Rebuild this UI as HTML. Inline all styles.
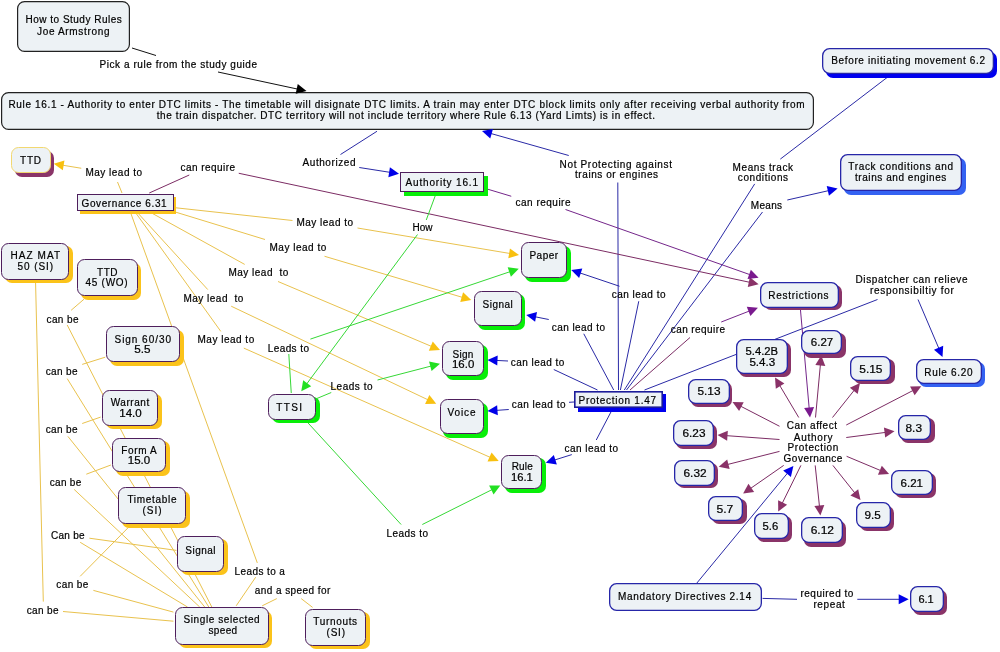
<!DOCTYPE html>
<html><head><meta charset="utf-8"><title>Concept map</title>
<style>html,body{margin:0;padding:0;background:#fff;width:1000px;height:652px;overflow:hidden}
svg{display:block;will-change:transform}
text{font-family:"Liberation Sans",sans-serif}</style></head>
<body>
<svg width="1000" height="652" viewBox="0 0 1000 652">
<rect width="1000" height="652" fill="#ffffff"/>
<g fill="none">
<polyline points="132.00,48.00 156.00,55.50" stroke="#111111" stroke-width="1.0"/>
<polyline points="218.00,72.00 298.68,89.32" stroke="#111111" stroke-width="1.0"/>
<polyline points="377.00,131.25 340.50,154.50" stroke="#2a2aa6" stroke-width="1.0"/>
<polyline points="359.25,167.50 391.10,172.51" stroke="#2a2aa6" stroke-width="1.0"/>
<polyline points="568.75,155.50 489.70,133.17" stroke="#2a2aa6" stroke-width="1.0"/>
<polyline points="617.80,182.50 618.50,390.00" stroke="#2a2aa6" stroke-width="1.0"/>
<polyline points="780.30,159.10 891.00,74.50" stroke="#2a2aa6" stroke-width="1.0"/>
<polyline points="624.30,390.00 754.70,183.90" stroke="#2a2aa6" stroke-width="1.0"/>
<polyline points="626.50,390.00 762.50,212.00" stroke="#2a2aa6" stroke-width="1.0"/>
<polyline points="787.30,200.00 829.80,190.37" stroke="#2a2aa6" stroke-width="1.0"/>
<polyline points="620.40,390.00 638.75,301.25" stroke="#2a2aa6" stroke-width="1.0"/>
<polyline points="619.50,286.25 578.83,272.55" stroke="#2a2aa6" stroke-width="1.0"/>
<polyline points="613.70,390.00 583.75,333.75" stroke="#2a2aa6" stroke-width="1.0"/>
<polyline points="548.75,319.50 534.09,316.57" stroke="#2a2aa6" stroke-width="1.0"/>
<polyline points="597.50,390.00 553.75,369.50" stroke="#2a2aa6" stroke-width="1.0"/>
<polyline points="508.00,361.00 495.49,360.39" stroke="#2a2aa6" stroke-width="1.0"/>
<polyline points="574.00,402.00 569.00,402.30" stroke="#2a2aa6" stroke-width="1.0"/>
<polyline points="508.75,409.50 495.48,410.44" stroke="#2a2aa6" stroke-width="1.0"/>
<polyline points="612.50,409.00 596.25,440.00" stroke="#2a2aa6" stroke-width="1.0"/>
<polyline points="571.80,454.60 553.43,460.39" stroke="#2a2aa6" stroke-width="1.0"/>
<polyline points="644.50,390.00 877.50,299.50" stroke="#2a2aa6" stroke-width="1.0"/>
<polyline points="918.00,299.50 939.36,349.64" stroke="#2a2aa6" stroke-width="1.0"/>
<polyline points="696.90,583.00 788.31,472.17" stroke="#2a2aa6" stroke-width="1.0"/>
<polyline points="762.60,598.40 797.00,599.30" stroke="#2a2aa6" stroke-width="1.0"/>
<polyline points="857.30,599.30 900.70,599.30" stroke="#2a2aa6" stroke-width="1.0"/>
<polyline points="149.25,193.00 189.25,175.00" stroke="#7c2c64" stroke-width="1.0"/>
<polyline points="238.75,173.25 750.78,282.53" stroke="#7c2c64" stroke-width="1.0"/>
<polyline points="483.75,188.00 511.25,196.25" stroke="#74268a" stroke-width="1.0"/>
<polyline points="565.50,209.50 751.06,275.04" stroke="#74268a" stroke-width="1.0"/>
<polyline points="630.00,390.00 690.00,337.50" stroke="#7c2c64" stroke-width="1.0"/>
<polyline points="721.25,322.00 750.45,310.61" stroke="#74268a" stroke-width="1.0"/>
<polyline points="800.30,308.00 809.29,409.53" stroke="#74268a" stroke-width="1.0"/>
<polyline points="815.50,417.50 820.51,363.47" stroke="#7c2c64" stroke-width="1.0"/>
<polyline points="798.75,417.50 779.08,384.38" stroke="#7c2c64" stroke-width="1.0"/>
<polyline points="832.50,417.50 855.01,389.26" stroke="#7c2c64" stroke-width="1.0"/>
<polyline points="846.25,425.00 914.14,389.92" stroke="#7c2c64" stroke-width="1.0"/>
<polyline points="846.25,437.50 886.57,432.28" stroke="#7c2c64" stroke-width="1.0"/>
<polyline points="779.50,426.25 739.61,405.67" stroke="#7c2c64" stroke-width="1.0"/>
<polyline points="779.50,439.50 725.48,435.58" stroke="#7c2c64" stroke-width="1.0"/>
<polyline points="779.50,451.40 726.46,464.75" stroke="#7c2c64" stroke-width="1.0"/>
<polyline points="783.70,465.40 749.67,489.04" stroke="#7c2c64" stroke-width="1.0"/>
<polyline points="800.90,465.40 781.73,504.32" stroke="#7c2c64" stroke-width="1.0"/>
<polyline points="815.20,465.40 819.57,507.44" stroke="#7c2c64" stroke-width="1.0"/>
<polyline points="832.90,465.40 855.52,493.84" stroke="#7c2c64" stroke-width="1.0"/>
<polyline points="846.60,456.30 881.72,471.01" stroke="#7c2c64" stroke-width="1.0"/>
<polyline points="122.00,193.00 117.50,182.00" stroke="#e9c24e" stroke-width="1.0"/>
<polyline points="81.25,168.25 61.64,165.04" stroke="#e9c24e" stroke-width="1.0"/>
<polyline points="174.00,207.60 292.50,220.50" stroke="#e9c24e" stroke-width="1.0"/>
<polyline points="357.50,228.00 511.11,253.68" stroke="#e9c24e" stroke-width="1.0"/>
<polyline points="172.00,211.00 265.00,239.50" stroke="#e9c24e" stroke-width="1.0"/>
<polyline points="324.50,256.25 463.58,297.71" stroke="#e9c24e" stroke-width="1.0"/>
<polyline points="148.00,211.00 244.70,264.40" stroke="#e9c24e" stroke-width="1.0"/>
<polyline points="278.00,281.50 432.63,346.88" stroke="#e9c24e" stroke-width="1.0"/>
<polyline points="136.00,211.00 207.80,289.60" stroke="#e9c24e" stroke-width="1.0"/>
<polyline points="231.20,306.20 429.03,400.31" stroke="#e9c24e" stroke-width="1.0"/>
<polyline points="134.40,211.00 220.80,331.40" stroke="#e9c24e" stroke-width="1.0"/>
<polyline points="243.80,348.10 491.39,457.86" stroke="#e9c24e" stroke-width="1.0"/>
<polyline points="130.00,211.00 257.30,562.90" stroke="#e9c24e" stroke-width="1.0"/>
<polyline points="255.70,577.20 236.20,605.80" stroke="#e9c24e" stroke-width="1.0"/>
<polyline points="276.80,598.60 262.20,605.80" stroke="#e9c24e" stroke-width="1.0"/>
<polyline points="301.20,598.60 312.60,607.40" stroke="#e9c24e" stroke-width="1.0"/>
<polyline points="84.00,299.20 71.10,310.30" stroke="#e9c24e" stroke-width="1.0"/>
<polyline points="67.20,325.00 211.80,607.00" stroke="#e9c24e" stroke-width="1.0"/>
<polyline points="105.20,357.20 82.20,364.40" stroke="#e9c24e" stroke-width="1.0"/>
<polyline points="67.20,378.60 208.80,607.00" stroke="#e9c24e" stroke-width="1.0"/>
<polyline points="100.60,417.10 82.20,423.50" stroke="#e9c24e" stroke-width="1.0"/>
<polyline points="67.90,436.40 204.70,607.00" stroke="#e9c24e" stroke-width="1.0"/>
<polyline points="110.90,465.00 86.30,474.20" stroke="#e9c24e" stroke-width="1.0"/>
<polyline points="74.10,489.40 199.70,607.00" stroke="#e9c24e" stroke-width="1.0"/>
<polyline points="89.40,538.20 176.40,550.40" stroke="#e9c24e" stroke-width="1.0"/>
<polyline points="80.20,542.30 187.50,607.00" stroke="#e9c24e" stroke-width="1.0"/>
<polyline points="80.20,576.30 129.80,526.00" stroke="#e9c24e" stroke-width="1.0"/>
<polyline points="93.40,590.40 173.40,612.10" stroke="#e9c24e" stroke-width="1.0"/>
<polyline points="35.50,280.00 43.30,601.60" stroke="#e9c24e" stroke-width="1.0"/>
<polyline points="63.00,611.50 173.40,621.20" stroke="#e9c24e" stroke-width="1.0"/>
<polyline points="436.25,193.00 426.25,220.00" stroke="#36d836" stroke-width="1.0"/>
<polyline points="417.50,234.50 306.02,384.82" stroke="#36d836" stroke-width="1.0"/>
<polyline points="310.40,339.10 511.17,271.31" stroke="#36d836" stroke-width="1.0"/>
<polyline points="288.80,354.00 291.25,393.00" stroke="#36d836" stroke-width="1.0"/>
<polyline points="316.25,398.75 331.25,392.50" stroke="#36d836" stroke-width="1.0"/>
<polyline points="377.50,380.00 432.26,365.76" stroke="#36d836" stroke-width="1.0"/>
<polyline points="306.25,421.00 401.10,524.50" stroke="#36d836" stroke-width="1.0"/>
<polyline points="422.30,524.50 493.14,489.08" stroke="#36d836" stroke-width="1.0"/>
</g>
<rect x="17.60" y="1.60" width="111.80" height="49.80" rx="7" fill="#edf2f5" stroke="#222" stroke-width="1.2"/>
<rect x="1.60" y="92.60" width="811.80" height="36.80" rx="7" fill="#edf2f5" stroke="#222" stroke-width="1.2"/>
<rect x="826" y="52" width="171" height="26" rx="7" fill="#0000ee"/>
<rect x="822.65" y="48.65" width="170.70" height="24.70" rx="7" fill="#edf2f5" stroke="#2626a8" stroke-width="1.3"/>
<rect x="844" y="158" width="122" height="37" rx="7" fill="#3462f2"/>
<rect x="840.65" y="154.65" width="120.70" height="35.70" rx="7" fill="#edf2f5" stroke="#2626a8" stroke-width="1.3"/>
<rect x="15" y="151" width="39" height="26" rx="7" fill="#8a3468"/>
<rect x="11.50" y="147.50" width="39.00" height="25.00" rx="7" fill="#edf2f5" stroke="#f2d870" stroke-width="1.0"/>
<rect x="80" y="197" width="96" height="17" rx="0" fill="#fbc31a"/>
<rect x="77.50" y="194.50" width="96.00" height="16.00" rx="0" fill="#edf2f5" stroke="#4e1e5c" stroke-width="1.0"/>
<rect x="404" y="176" width="84" height="20" rx="0" fill="#08ee08"/>
<rect x="400.50" y="172.50" width="83.00" height="19.00" rx="0" fill="#edf2f5" stroke="#4e1e5c" stroke-width="1.0"/>
<rect x="5" y="246" width="68" height="37" rx="7" fill="#fbc31a"/>
<rect x="1.50" y="243.50" width="67.00" height="36.00" rx="7" fill="#edf2f5" stroke="#4e1e5c" stroke-width="1.0"/>
<rect x="81" y="263" width="60" height="37" rx="7" fill="#fbc31a"/>
<rect x="77.50" y="259.50" width="60.00" height="36.00" rx="7" fill="#edf2f5" stroke="#4e1e5c" stroke-width="1.0"/>
<rect x="525" y="246" width="46" height="36" rx="7" fill="#08ee08"/>
<rect x="521.50" y="242.50" width="45.00" height="35.00" rx="7" fill="#edf2f5" stroke="#4e1e5c" stroke-width="1.0"/>
<rect x="478" y="294" width="47" height="36" rx="7" fill="#08ee08"/>
<rect x="474.50" y="291.50" width="47.00" height="34.00" rx="7" fill="#edf2f5" stroke="#4e1e5c" stroke-width="1.0"/>
<rect x="764" y="285" width="78" height="25" rx="7" fill="#8a3468"/>
<rect x="760.65" y="282.65" width="77.70" height="24.70" rx="7" fill="#edf2f5" stroke="#2626a8" stroke-width="1.3"/>
<rect x="110" y="330" width="74" height="36" rx="7" fill="#fbc31a"/>
<rect x="106.50" y="326.50" width="73.00" height="35.00" rx="7" fill="#edf2f5" stroke="#4e1e5c" stroke-width="1.0"/>
<rect x="446" y="345" width="42" height="35" rx="7" fill="#08ee08"/>
<rect x="442.50" y="341.50" width="41.00" height="34.00" rx="7" fill="#edf2f5" stroke="#4e1e5c" stroke-width="1.0"/>
<rect x="272" y="397" width="48" height="26" rx="7" fill="#08ee08"/>
<rect x="268.50" y="394.50" width="47.00" height="25.00" rx="7" fill="#edf2f5" stroke="#4e1e5c" stroke-width="1.0"/>
<rect x="443" y="403" width="45" height="35" rx="7" fill="#08ee08"/>
<rect x="440.50" y="399.50" width="43.00" height="34.00" rx="7" fill="#edf2f5" stroke="#4e1e5c" stroke-width="1.0"/>
<rect x="578" y="394" width="88" height="18" rx="0" fill="#0000ee"/>
<rect x="574.80" y="391.80" width="87.40" height="15.40" rx="0" fill="#edf2f5" stroke="#1c1c9a" stroke-width="1.6"/>
<rect x="106" y="394" width="56" height="35" rx="7" fill="#fbc31a"/>
<rect x="102.50" y="390.50" width="55.00" height="35.00" rx="7" fill="#edf2f5" stroke="#4e1e5c" stroke-width="1.0"/>
<rect x="116" y="441" width="54" height="35" rx="7" fill="#fbc31a"/>
<rect x="112.50" y="438.50" width="53.00" height="33.00" rx="7" fill="#edf2f5" stroke="#4e1e5c" stroke-width="1.0"/>
<rect x="122" y="491" width="68" height="37" rx="7" fill="#fbc31a"/>
<rect x="118.50" y="487.50" width="67.00" height="36.00" rx="7" fill="#edf2f5" stroke="#4e1e5c" stroke-width="1.0"/>
<rect x="181" y="539" width="47" height="36" rx="7" fill="#fbc31a"/>
<rect x="177.50" y="536.50" width="46.00" height="35.00" rx="7" fill="#edf2f5" stroke="#4e1e5c" stroke-width="1.0"/>
<rect x="179" y="611" width="93" height="37" rx="7" fill="#fbc31a"/>
<rect x="175.50" y="607.50" width="93.00" height="37.00" rx="7" fill="#edf2f5" stroke="#4e1e5c" stroke-width="1.0"/>
<rect x="309" y="612" width="61" height="37" rx="7" fill="#fbc31a"/>
<rect x="305.50" y="609.50" width="60.00" height="36.00" rx="7" fill="#edf2f5" stroke="#4e1e5c" stroke-width="1.0"/>
<rect x="505" y="458" width="41" height="35" rx="7" fill="#08ee08"/>
<rect x="501.50" y="455.50" width="40.00" height="33.00" rx="7" fill="#edf2f5" stroke="#4e1e5c" stroke-width="1.0"/>
<rect x="739" y="342" width="52" height="35" rx="7" fill="#8a3468"/>
<rect x="736.65" y="339.65" width="50.70" height="33.70" rx="7" fill="#edf2f5" stroke="#2626a8" stroke-width="1.3"/>
<rect x="804" y="333" width="42" height="25" rx="7" fill="#8a3468"/>
<rect x="801.65" y="330.65" width="39.70" height="22.70" rx="7" fill="#edf2f5" stroke="#2626a8" stroke-width="1.3"/>
<rect x="854" y="359" width="41" height="25" rx="7" fill="#8a3468"/>
<rect x="850.65" y="356.65" width="39.70" height="23.70" rx="7" fill="#edf2f5" stroke="#2626a8" stroke-width="1.3"/>
<rect x="919" y="362" width="66" height="25" rx="7" fill="#3462f2"/>
<rect x="916.65" y="359.65" width="64.70" height="23.70" rx="7" fill="#edf2f5" stroke="#2626a8" stroke-width="1.3"/>
<rect x="691" y="382" width="41" height="25" rx="7" fill="#8a3468"/>
<rect x="688.65" y="379.65" width="40.70" height="23.70" rx="7" fill="#edf2f5" stroke="#2626a8" stroke-width="1.3"/>
<rect x="901" y="418" width="34" height="25" rx="7" fill="#8a3468"/>
<rect x="898.65" y="415.65" width="31.70" height="23.70" rx="7" fill="#edf2f5" stroke="#2626a8" stroke-width="1.3"/>
<rect x="676" y="424" width="41" height="25" rx="7" fill="#8a3468"/>
<rect x="673.65" y="420.65" width="39.70" height="24.70" rx="7" fill="#edf2f5" stroke="#2626a8" stroke-width="1.3"/>
<rect x="677" y="463" width="41" height="25" rx="7" fill="#8a3468"/>
<rect x="674.65" y="460.65" width="39.70" height="24.70" rx="7" fill="#edf2f5" stroke="#2626a8" stroke-width="1.3"/>
<rect x="895" y="473" width="41" height="25" rx="7" fill="#8a3468"/>
<rect x="891.65" y="470.65" width="40.70" height="23.70" rx="7" fill="#edf2f5" stroke="#2626a8" stroke-width="1.3"/>
<rect x="712" y="499" width="35" height="25" rx="7" fill="#8a3468"/>
<rect x="708.65" y="496.65" width="33.70" height="23.70" rx="7" fill="#edf2f5" stroke="#2626a8" stroke-width="1.3"/>
<rect x="860" y="506" width="34" height="25" rx="7" fill="#8a3468"/>
<rect x="856.65" y="502.65" width="33.70" height="24.70" rx="7" fill="#edf2f5" stroke="#2626a8" stroke-width="1.3"/>
<rect x="757" y="516" width="35" height="26" rx="7" fill="#8a3468"/>
<rect x="754.65" y="513.65" width="33.70" height="24.70" rx="7" fill="#edf2f5" stroke="#2626a8" stroke-width="1.3"/>
<rect x="804" y="521" width="42" height="26" rx="7" fill="#8a3468"/>
<rect x="801.65" y="517.65" width="40.70" height="24.70" rx="7" fill="#edf2f5" stroke="#2626a8" stroke-width="1.3"/>
<rect x="609.65" y="583.65" width="151.70" height="26.70" rx="7" fill="#edf2f5" stroke="#2626a8" stroke-width="1.3"/>
<rect x="913" y="590" width="34" height="25" rx="7" fill="#8a3468"/>
<rect x="910.65" y="586.65" width="32.70" height="24.70" rx="7" fill="#edf2f5" stroke="#2626a8" stroke-width="1.3"/>
<polygon points="306.50,91.00 295.67,93.79 297.77,84.01" fill="#000000"/>
<polygon points="399.00,173.75 388.34,177.14 389.90,167.26" fill="#0000e8"/>
<polygon points="482.00,131.00 492.98,128.91 490.26,138.53" fill="#0000e8"/>
<polygon points="837.60,188.60 828.95,195.69 826.74,185.93" fill="#0000e8"/>
<polygon points="571.25,270.00 582.32,268.45 579.13,277.93" fill="#0000e8"/>
<polygon points="526.25,315.00 537.04,312.06 535.08,321.86" fill="#0000e8"/>
<polygon points="487.50,360.00 497.73,355.49 497.24,365.48" fill="#0000e8"/>
<polygon points="487.50,411.00 497.12,405.31 497.83,415.28" fill="#0000e8"/>
<polygon points="545.80,462.80 553.83,455.02 556.84,464.56" fill="#0000e8"/>
<polygon points="942.50,357.00 933.98,349.76 943.18,345.84" fill="#0000e8"/>
<polygon points="793.40,466.00 790.89,476.90 783.18,470.53" fill="#0000e8"/>
<polygon points="908.70,599.30 898.70,604.30 898.70,594.30" fill="#0000e8"/>
<polygon points="758.60,284.20 747.78,287.00 749.86,277.22" fill="#8a3268"/>
<polygon points="758.60,277.70 747.51,279.08 750.84,269.66" fill="#7a1a8e"/>
<polygon points="757.90,307.70 750.40,315.99 746.77,306.68" fill="#7a1a8e"/>
<polygon points="810.00,417.50 804.14,407.98 814.10,407.10" fill="#7a1a8e"/>
<polygon points="821.25,355.50 825.31,365.92 815.35,365.00" fill="#8a3268"/>
<polygon points="775.00,377.50 784.40,383.55 775.81,388.65" fill="#8a3268"/>
<polygon points="860.00,383.00 857.68,393.94 849.86,387.70" fill="#8a3268"/>
<polygon points="921.25,386.25 914.66,395.28 910.07,386.40" fill="#8a3268"/>
<polygon points="894.50,431.25 885.23,437.49 883.94,427.58" fill="#8a3268"/>
<polygon points="732.50,402.00 743.68,402.14 739.09,411.03" fill="#8a3268"/>
<polygon points="717.50,435.00 727.84,430.74 727.11,440.71" fill="#8a3268"/>
<polygon points="718.70,466.70 727.18,459.41 729.62,469.11" fill="#8a3268"/>
<polygon points="743.10,493.60 748.46,483.79 754.17,492.00" fill="#8a3268"/>
<polygon points="778.20,511.50 778.13,500.32 787.10,504.74" fill="#8a3268"/>
<polygon points="820.40,515.40 814.39,505.97 824.34,504.94" fill="#8a3268"/>
<polygon points="860.50,500.10 850.36,495.39 858.19,489.16" fill="#8a3268"/>
<polygon points="889.10,474.10 877.94,474.85 881.81,465.63" fill="#8a3268"/>
<polygon points="53.75,163.75 64.43,160.43 62.81,170.30" fill="#f8c010"/>
<polygon points="519.00,255.00 508.31,258.28 509.96,248.42" fill="#f8c010"/>
<polygon points="471.25,300.00 460.24,301.93 463.10,292.35" fill="#f8c010"/>
<polygon points="440.00,350.00 428.84,350.71 432.74,341.50" fill="#f8c010"/>
<polygon points="436.25,403.75 425.07,403.97 429.37,394.94" fill="#f8c010"/>
<polygon points="498.70,461.10 487.53,461.62 491.58,452.48" fill="#f8c010"/>
<polygon points="301.25,391.25 303.19,380.24 311.22,386.20" fill="#22e022"/>
<polygon points="518.75,268.75 510.88,276.69 507.68,267.21" fill="#22e022"/>
<polygon points="440.00,363.75 431.58,371.11 429.06,361.43" fill="#22e022"/>
<polygon points="500.30,485.50 493.59,494.44 489.12,485.50" fill="#22e022"/>
<g font-family="Liberation Sans, sans-serif" fill="#000" stroke="#000" stroke-width="0.2">
<text x="25.50" y="23.40" textLength="96.25" lengthAdjust="spacing" font-size="10.0">How to Study Rules</text>
<text x="37.00" y="34.90" textLength="72.50" lengthAdjust="spacing" font-size="10.0">Joe Armstrong</text>
<text x="8.40" y="108.40" textLength="796.10" lengthAdjust="spacing" font-size="10.0">Rule 16.1 - Authority to enter DTC limits - The timetable will disignate DTC limits. A train may enter DTC block limits only after receiving verbal authority from</text>
<text x="156.70" y="119.20" textLength="498.30" lengthAdjust="spacing" font-size="10.0">the train dispatcher. DTC territory will not include territory where Rule 6.13 (Yard Limts) is in effect.</text>
<text x="831.25" y="64.40" textLength="153.75" lengthAdjust="spacing" font-size="10.0">Before initiating movement 6.2</text>
<text x="848.25" y="170.15" textLength="104.75" lengthAdjust="spacing" font-size="10.0">Track conditions and</text>
<text x="855.00" y="181.10" textLength="91.25" lengthAdjust="spacing" font-size="10.0">trains and engines</text>
<text x="20.00" y="164.40" textLength="21.00" lengthAdjust="spacing" font-size="10.0">TTD</text>
<text x="81.60" y="206.50" textLength="85.00" lengthAdjust="spacing" font-size="10.0">Governance 6.31</text>
<text x="405.50" y="185.65" textLength="72.50" lengthAdjust="spacing" font-size="10.0">Authority 16.1</text>
<text x="10.50" y="259.40" textLength="49.50" lengthAdjust="spacing" font-size="10.0">HAZ MAT</text>
<text x="17.50" y="270.15" textLength="35.50" lengthAdjust="spacing" font-size="10.0">50 (SI)</text>
<text x="97.00" y="275.50" textLength="20.60" lengthAdjust="spacing" font-size="10.0">TTD</text>
<text x="85.60" y="286.30" textLength="42.00" lengthAdjust="spacing" font-size="10.0">45 (WO)</text>
<text x="529.50" y="259.40" textLength="28.50" lengthAdjust="spacing" font-size="10.0">Paper</text>
<text x="482.50" y="308.10" textLength="30.30" lengthAdjust="spacing" font-size="10.0">Signal</text>
<text x="768.30" y="299.30" textLength="60.20" lengthAdjust="spacing" font-size="10.0">Restrictions</text>
<text x="114.50" y="342.65" textLength="56.50" lengthAdjust="spacing" font-size="10.0">Sign 60/30</text>
<text x="134.25" y="353.40" textLength="16.25" lengthAdjust="spacingAndGlyphs" font-size="10.0">5.5</text>
<text x="452.50" y="357.65" textLength="20.75" lengthAdjust="spacing" font-size="10.0">Sign</text>
<text x="452.00" y="368.15" textLength="22.25" lengthAdjust="spacingAndGlyphs" font-size="10.0">16.0</text>
<text x="276.25" y="411.40" textLength="25.75" lengthAdjust="spacing" font-size="10.0">TTSI</text>
<text x="447.50" y="416.40" textLength="28.00" lengthAdjust="spacing" font-size="10.0">Voice</text>
<text x="578.60" y="404.40" textLength="77.40" lengthAdjust="spacing" font-size="10.0">Protection 1.47</text>
<text x="110.75" y="406.40" textLength="38.50" lengthAdjust="spacing" font-size="10.0">Warrant</text>
<text x="119.25" y="417.15" textLength="22.50" lengthAdjust="spacingAndGlyphs" font-size="10.0">14.0</text>
<text x="121.30" y="453.65" textLength="35.40" lengthAdjust="spacing" font-size="10.0">Form A</text>
<text x="127.80" y="464.40" textLength="22.40" lengthAdjust="spacingAndGlyphs" font-size="10.0">15.0</text>
<text x="127.40" y="503.40" textLength="49.10" lengthAdjust="spacing" font-size="10.0">Timetable</text>
<text x="142.40" y="514.40" textLength="19.20" lengthAdjust="spacing" font-size="10.0">(SI)</text>
<text x="185.30" y="553.50" textLength="30.20" lengthAdjust="spacing" font-size="10.0">Signal</text>
<text x="183.50" y="623.40" textLength="76.10" lengthAdjust="spacing" font-size="10.0">Single selected</text>
<text x="208.50" y="634.10" textLength="28.60" lengthAdjust="spacing" font-size="10.0">speed</text>
<text x="313.20" y="625.30" textLength="43.90" lengthAdjust="spacing" font-size="10.0">Turnouts</text>
<text x="326.50" y="636.40" textLength="18.50" lengthAdjust="spacing" font-size="10.0">(SI)</text>
<text x="511.70" y="469.90" textLength="21.10" lengthAdjust="spacing" font-size="10.0">Rule</text>
<text x="511.00" y="481.30" textLength="21.80" lengthAdjust="spacingAndGlyphs" font-size="10.0">16.1</text>
<text x="745.50" y="355.20" textLength="32.60" lengthAdjust="spacingAndGlyphs" font-size="10.0">5.4.2B</text>
<text x="749.40" y="365.90" textLength="25.90" lengthAdjust="spacingAndGlyphs" font-size="10.0">5.4.3</text>
<text x="810.80" y="346.30" textLength="22.40" lengthAdjust="spacingAndGlyphs" font-size="10.0">6.27</text>
<text x="859.25" y="373.40" textLength="23.25" lengthAdjust="spacingAndGlyphs" font-size="10.0">5.15</text>
<text x="924.25" y="376.40" textLength="48.25" lengthAdjust="spacing" font-size="10.0">Rule 6.20</text>
<text x="697.50" y="395.15" textLength="23.00" lengthAdjust="spacingAndGlyphs" font-size="10.0">5.13</text>
<text x="905.50" y="431.90" textLength="16.50" lengthAdjust="spacingAndGlyphs" font-size="10.0">8.3</text>
<text x="682.50" y="436.90" textLength="23.00" lengthAdjust="spacingAndGlyphs" font-size="10.0">6.23</text>
<text x="683.50" y="477.10" textLength="23.10" lengthAdjust="spacingAndGlyphs" font-size="10.0">6.32</text>
<text x="900.50" y="487.10" textLength="22.50" lengthAdjust="spacingAndGlyphs" font-size="10.0">6.21</text>
<text x="716.40" y="513.10" textLength="16.90" lengthAdjust="spacingAndGlyphs" font-size="10.0">5.7</text>
<text x="864.40" y="519.30" textLength="16.30" lengthAdjust="spacingAndGlyphs" font-size="10.0">9.5</text>
<text x="762.50" y="530.10" textLength="15.70" lengthAdjust="spacingAndGlyphs" font-size="10.0">5.6</text>
<text x="810.70" y="534.30" textLength="23.30" lengthAdjust="spacingAndGlyphs" font-size="10.0">6.12</text>
<text x="617.90" y="599.90" textLength="133.30" lengthAdjust="spacing" font-size="10.0">Mandatory Directives 2.14</text>
<text x="918.40" y="603.20" textLength="15.30" lengthAdjust="spacingAndGlyphs" font-size="10.0">6.1</text>
<text x="99.50" y="67.65" textLength="157.50" lengthAdjust="spacing" font-size="10.0">Pick a rule from the study guide</text>
<text x="302.50" y="166.40" textLength="53.00" lengthAdjust="spacing" font-size="10.0">Authorized</text>
<text x="559.50" y="167.65" textLength="112.50" lengthAdjust="spacing" font-size="10.0">Not Protecting against</text>
<text x="575.00" y="178.40" textLength="83.00" lengthAdjust="spacing" font-size="10.0">trains or engines</text>
<text x="732.60" y="170.80" textLength="60.40" lengthAdjust="spacing" font-size="10.0">Means track</text>
<text x="737.80" y="181.30" textLength="50.30" lengthAdjust="spacing" font-size="10.0">conditions</text>
<text x="750.80" y="209.40" textLength="31.30" lengthAdjust="spacing" font-size="10.0">Means</text>
<text x="85.50" y="176.40" textLength="56.50" lengthAdjust="spacing" font-size="10.0">May lead to</text>
<text x="180.50" y="170.65" textLength="54.50" lengthAdjust="spacing" font-size="10.0">can require</text>
<text x="412.50" y="231.40" textLength="20.00" lengthAdjust="spacing" font-size="10.0">How</text>
<text x="515.50" y="205.65" textLength="55.00" lengthAdjust="spacing" font-size="10.0">can require</text>
<text x="296.50" y="226.40" textLength="56.50" lengthAdjust="spacing" font-size="10.0">May lead to</text>
<text x="269.50" y="251.40" textLength="56.75" lengthAdjust="spacing" font-size="10.0">May lead to</text>
<text x="228.50" y="276.40" textLength="59.80" lengthAdjust="spacing" font-size="10.0">May lead  to</text>
<text x="183.50" y="301.60" textLength="59.80" lengthAdjust="spacing" font-size="10.0">May lead  to</text>
<text x="197.50" y="343.40" textLength="56.70" lengthAdjust="spacing" font-size="10.0">May lead to</text>
<text x="855.50" y="283.40" textLength="112.00" lengthAdjust="spacing" font-size="10.0">Dispatcher can relieve</text>
<text x="870.00" y="293.90" textLength="83.75" lengthAdjust="spacing" font-size="10.0">responsibiltiy for</text>
<text x="611.75" y="298.40" textLength="53.75" lengthAdjust="spacing" font-size="10.0">can lead to</text>
<text x="551.75" y="330.65" textLength="53.25" lengthAdjust="spacing" font-size="10.0">can lead to</text>
<text x="670.75" y="333.40" textLength="54.25" lengthAdjust="spacing" font-size="10.0">can require</text>
<text x="267.70" y="351.60" textLength="41.30" lengthAdjust="spacing" font-size="10.0">Leads to</text>
<text x="510.75" y="366.40" textLength="53.50" lengthAdjust="spacing" font-size="10.0">can lead to</text>
<text x="330.50" y="390.15" textLength="42.00" lengthAdjust="spacing" font-size="10.0">Leads to</text>
<text x="511.75" y="408.40" textLength="53.75" lengthAdjust="spacing" font-size="10.0">can lead to</text>
<text x="564.50" y="451.70" textLength="53.50" lengthAdjust="spacing" font-size="10.0">can lead to</text>
<text x="786.75" y="429.40" textLength="50.25" lengthAdjust="spacing" font-size="10.0">Can affect</text>
<text x="793.75" y="440.65" textLength="38.75" lengthAdjust="spacing" font-size="10.0">Authory</text>
<text x="787.50" y="451.10" textLength="50.80" lengthAdjust="spacing" font-size="10.0">Protection</text>
<text x="783.60" y="462.40" textLength="58.80" lengthAdjust="spacing" font-size="10.0">Governance</text>
<text x="46.50" y="322.65" textLength="32.00" lengthAdjust="spacing" font-size="10.0">can be</text>
<text x="45.75" y="375.15" textLength="31.75" lengthAdjust="spacing" font-size="10.0">can be</text>
<text x="45.75" y="433.15" textLength="31.75" lengthAdjust="spacing" font-size="10.0">can be</text>
<text x="49.75" y="486.20" textLength="31.55" lengthAdjust="spacing" font-size="10.0">can be</text>
<text x="51.00" y="539.20" textLength="33.50" lengthAdjust="spacing" font-size="10.0">Can be</text>
<text x="56.20" y="587.90" textLength="32.20" lengthAdjust="spacing" font-size="10.0">can be</text>
<text x="26.70" y="613.60" textLength="31.80" lengthAdjust="spacing" font-size="10.0">can be</text>
<text x="234.50" y="574.60" textLength="50.40" lengthAdjust="spacing" font-size="10.0">Leads to a</text>
<text x="254.70" y="594.40" textLength="75.70" lengthAdjust="spacing" font-size="10.0">and a speed for</text>
<text x="386.50" y="536.60" textLength="41.60" lengthAdjust="spacing" font-size="10.0">Leads to</text>
<text x="800.40" y="597.40" textLength="53.00" lengthAdjust="spacing" font-size="10.0">required to</text>
<text x="813.40" y="608.10" textLength="31.50" lengthAdjust="spacing" font-size="10.0">repeat</text>
</g></svg>
</body></html>
